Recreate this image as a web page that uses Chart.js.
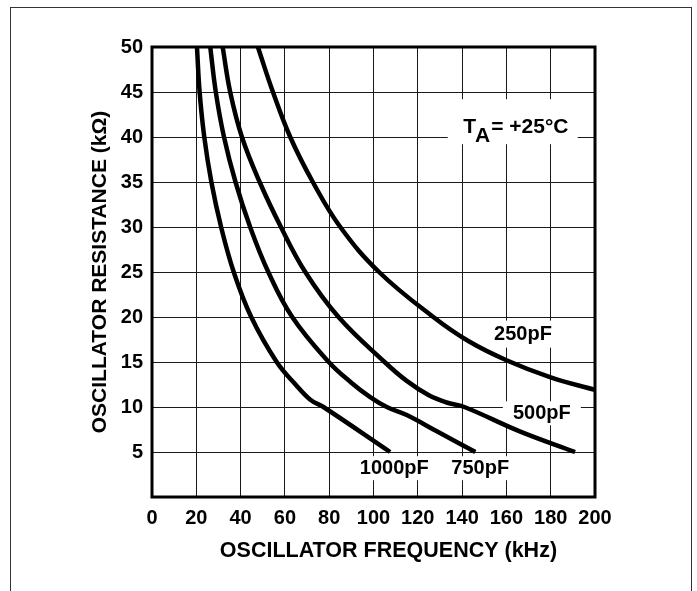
<!DOCTYPE html>
<html>
<head>
<meta charset="utf-8">
<script src="https://cdn.jsdelivr.net/npm/chart.js@4.4.1/dist/chart.umd.min.js"></script>
<style>
  html, body { margin: 0; padding: 0; background: #fff; }
  body { width: 697px; height: 591px; position: relative; overflow: hidden; }
  #frame { position: absolute; left: 10px; top: 7px; width: 682px; height: 600px;
           border: 1px solid #333; border-bottom: none; box-sizing: border-box; }
  #wrap { position: absolute; left: 0; top: 0; width: 697px; height: 591px; }
</style>
</head>
<body>
<div id="frame"></div>
<div id="wrap"><canvas id="c" width="697" height="591"></canvas></div>
<script>
// ---- data (frequency in kHz, resistance in kOhm) ----
const freq250  = [47.8, 54.6, 62.4, 72.6, 85.0, 102.5, 127.0, 143.0, 160.0, 180.0, 200.0];
const res250   = [50,   45,   40,   35,   30,   25,    20,    17.3,  15.2,  13.3,  11.9];

const freq500  = [31.9, 35.3, 40.6, 48.6, 58.2, 69.2, 84.2, 105.0, 115.0, 125.0, 133.0, 141.0, 166.0, 191.0];
const res500   = [50,   45,   40,   35,   30,   25,   20,   15,    12.9,  11.3,  10.5,  10.0,  7.3,   5];

const freq750  = [26.3, 28.8, 32.5, 37.7, 44.3, 52.5, 63.3, 79.8, 90.0, 98.5, 106.0, 115.0, 128.6, 146.0];
const res750   = [50,   45,   40,   35,   30,   25,   20,   15,   12.7, 11.1, 10.0,  9.1,   7.3,   5];

const freq1000 = [20.3, 21.5, 23.6, 26.8, 31.2, 36.9, 44.8, 56.3, 64.8, 71.5, 77.4, 107.5];
const res1000  = [50,   45,   40,   35,   30,   25,   20,   15,   12.5, 10.8, 10.0, 5];

const xTicks = [0, 20, 40, 60, 80, 100, 120, 140, 160, 180, 200];
const yTicks = [5, 10, 15, 20, 25, 30, 35, 40, 45, 50];

const curveLabels = ['250pF', '500pF', '750pF', '1000pF'];
const tempLabelMain = 'T';
const tempLabelSub = 'A';
const tempLabelRest = '= +25°C';

const xTitle = 'OSCILLATOR FREQUENCY (kHz)';
const yTitle = 'OSCILLATOR RESISTANCE (kΩ)';

function pts(xs, ys) { return xs.map((x, i) => ({ x: x, y: ys[i] })); }

const FONT = '"Liberation Sans", Arial, Helvetica, sans-serif';

// label anchors in data units (centre) and white mask sizes in px
const labelItems = [
  { t: curveLabels[0], fx: 167.5, ry: 18.1, w: 72, h: 27 },
  { t: curveLabels[1], fx: 176.0, ry: 9.3,  w: 78, h: 24 },
  { t: curveLabels[2], fx: 148.2, ry: 3.2,  w: 68, h: 24 },
  { t: curveLabels[3], fx: 109.4, ry: 3.2,  w: 78, h: 24 }
];

const labelPlugin = {
  id: 'curveLabels',
  beforeDatasetsDraw(chart) {
    const ctx = chart.ctx;
    const xs = chart.scales.x, ys = chart.scales.y;
    ctx.save();
    ctx.fillStyle = '#fff';
    labelItems.forEach(it => {
      const px = xs.getPixelForValue(it.fx);
      const py = ys.getPixelForValue(it.ry);
      ctx.fillRect(px - it.w / 2, py - it.h / 2, it.w, it.h);
    });
    const bx = xs.getPixelForValue(133.5), by = ys.getPixelForValue(44.2);
    const bx2 = xs.getPixelForValue(192.2), by2 = ys.getPixelForValue(39.2);
    ctx.fillRect(bx, by, bx2 - bx, by2 - by);
    ctx.restore();
  },
  afterDatasetsDraw(chart) {
    const ctx = chart.ctx;
    const xs = chart.scales.x, ys = chart.scales.y;
    const ca = chart.chartArea;
    ctx.save();
    ctx.strokeStyle = '#000';
    ctx.lineWidth = 3;
    ctx.strokeRect(ca.left, ca.top, ca.right - ca.left, ca.bottom - ca.top);

    ctx.font = 'bold 20px ' + FONT;
    ctx.textBaseline = 'middle';
    ctx.textAlign = 'center';
    ctx.fillStyle = '#000';
    labelItems.forEach(it => {
      ctx.fillText(it.t, xs.getPixelForValue(it.fx), ys.getPixelForValue(it.ry));
    });

    ctx.textAlign = 'left';
    ctx.textBaseline = 'alphabetic';
    ctx.font = 'bold 21px ' + FONT;
    const tx = xs.getPixelForValue(140.5);
    const base = ys.getPixelForValue(40.4);
    ctx.fillText(tempLabelMain, tx, base);
    const wT = ctx.measureText(tempLabelMain).width;
    ctx.fillText(tempLabelSub, tx + wT - 1, base + 9);
    const wA = ctx.measureText(tempLabelSub).width;
    ctx.fillText(tempLabelRest, tx + wT + wA, base);
    ctx.restore();
  }
};

const lineStyle = {
  borderColor: '#000',
  borderWidth: 4.5,
  pointRadius: 0,
  fill: false,
  tension: 0.4,
  borderJoinStyle: 'round',
  borderCapStyle: 'butt'
};

new Chart(document.getElementById('c'), {
  type: 'line',
  data: {
    datasets: [
      Object.assign({ label: curveLabels[0], data: pts(freq250, res250) }, lineStyle),
      Object.assign({ label: curveLabels[1], data: pts(freq500, res500) }, lineStyle),
      Object.assign({ label: curveLabels[2], data: pts(freq750, res750) }, lineStyle),
      Object.assign({ label: curveLabels[3], data: pts(freq1000, res1000) }, lineStyle)
    ]
  },
  options: {
    responsive: false,
    animation: false,
    devicePixelRatio: 1,
    layout: { padding: { left: 0, top: 47, right: 102, bottom: 0 } },
    plugins: { legend: { display: false }, tooltip: { enabled: false } },
    scales: {
      x: {
        type: 'linear',
        min: 0, max: 200,
        afterFit(s) { s.height = 94; },
        afterBuildTicks(s) { s.ticks = xTicks.map(v => ({ value: v })); },
        grid: { color: '#1a1a1a', lineWidth: 1, drawTicks: false },
        border: { display: false },
        ticks: {
          color: '#000', padding: 9,
          font: { family: FONT, size: 20, weight: 'bold' },
          maxRotation: 0, autoSkip: false
        },
        title: {
          display: true, text: '     ' + xTitle, color: '#000',
          font: { family: FONT, size: 21.5, weight: 'bold' },
          padding: { top: 0, bottom: 27 }
        }
      },
      y: {
        type: 'linear',
        min: 0, max: 50,
        afterFit(s) { s.width = 152; },
        afterBuildTicks(s) { s.ticks = [0].concat(yTicks).map(v => ({ value: v })); },
        grid: { color: '#1a1a1a', lineWidth: 1, drawTicks: false },
        border: { display: false },
        ticks: {
          color: '#000', padding: 9,
          font: { family: FONT, size: 20, weight: 'bold' },
          callback: v => (yTicks.indexOf(v) >= 0 ? String(v) : '')
        },
        title: {
          display: true, text: yTitle, color: '#000',
          font: { family: FONT, size: 21, weight: 'bold' },
          padding: { top: 88, bottom: 0 }
        }
      }
    }
  },
  plugins: [labelPlugin]
});
</script>
</body>
</html>
